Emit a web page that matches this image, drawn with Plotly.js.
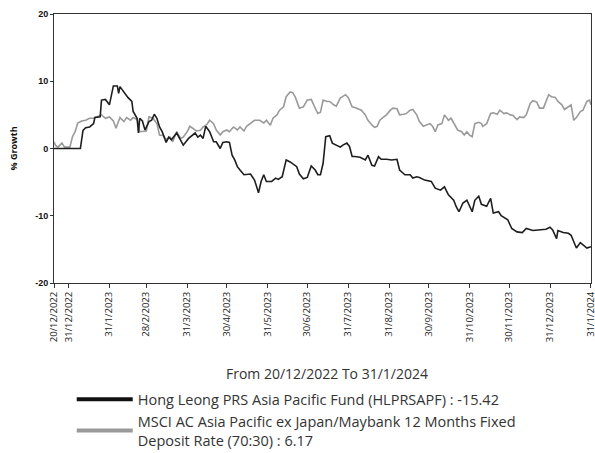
<!DOCTYPE html>
<html>
<head>
<meta charset="utf-8">
<script src="https://cdn.plot.ly/plotly-3.0.1.min.js"></script>
<style>html,body{margin:0;padding:0;background:#fff;}#chart{width:595px;height:453px;}</style>
</head>
<body>
<div id="chart"></div>
<script>
// Start date of the period; series x values are day offsets from this date
const startDate = "2022-12-20";

const fundName = "Hong Leong PRS Asia Pacific Fund (HLPRSAPF) : -15.42";
const benchName = "MSCI AC Asia Pacific ex Japan/Maybank 12 Months Fixed<br>Deposit Rate (70:30) : 6.17";
const periodText = "From 20/12/2022 To 31/1/2024";

const fundDays = [0,10,20,22,24,27,30,31,35,36,39,42,45,48,49,50,53,56,59,60,63,64,65,67,69,72,74,76,78,80,82,85,87,89,93,98,102,107,109,111,113,115,118,121,123,126,128,131,133,135,137,139,141,144,149,152,154,155,157,159,161,165,168,170,173,176,179,184,186,189,192,195,198,200,202,204,206,209,211,214,217,219,222,224,226,228,232,236,238,241,243,246,248,252,256,260,262,266,270,272,275,277,281,286,289,293,296,299,303,305,307,310,313,317,319,322,324,328,331,333,337,339,344,347,351,355,358,363,368,373,376,378,381,382,386,390,392,396,399,401,404,407];
const fundValues = [0,0,0,2.7,3.1,3.2,3.7,4.6,4.7,7.2,7.3,6.5,9.3,9.3,8.2,9.2,8.4,7.6,7.0,5.5,4.5,2.3,4.5,4.1,2.75,4.0,4.2,5.1,4.5,3.2,2.5,0.9,1.7,1.3,2.3,0.5,1.5,2.3,1.7,2.0,1.5,3.3,2.5,1.0,1.0,0,0.9,1.0,0.9,-1.0,-1.7,-2.7,-3.2,-3.9,-3.8,-4.7,-5.9,-6.6,-4.9,-3.9,-4.9,-4.9,-4.4,-4.6,-4.2,-1.7,-2.0,-2.7,-3.8,-4.5,-4.3,-2.6,-3.2,-3.9,-3.9,-2.2,1.75,1.9,0.8,0.5,0.2,0.5,0.8,0.3,-1.2,-1.2,-1.3,-1.7,-1.0,-2.5,-2.6,-1.2,-1.6,-1.6,-1.7,-1.6,-3.2,-3.9,-3.9,-4.4,-4.2,-4.3,-4.7,-4.9,-5.9,-6.2,-5.7,-6.9,-7.7,-8.7,-9.4,-8.1,-7.7,-9.4,-7.7,-7.1,-8.3,-8.6,-7.4,-9.6,-9.4,-10.0,-10.6,-11.9,-12.4,-12.5,-11.9,-12.2,-12.1,-12.0,-11.7,-12.1,-13.4,-12.2,-12.5,-12.6,-12.9,-14.8,-14.0,-14.35,-14.8,-14.6];

const benchDays = [0,1,3,6,8,12,14,16,18,21,24,27,30,32,36,39,42,45,47,50,53,55,58,60,63,65,68,70,72,75,78,80,83,85,88,90,93,96,98,101,103,106,108,111,113,116,118,121,123,126,128,131,133,136,139,141,144,146,149,152,156,159,161,164,166,169,171,174,176,179,181,183,186,189,192,195,198,200,202,204,207,209,212,214,217,219,221,223,226,228,231,233,236,238,241,243,245,247,250,252,255,257,260,262,265,267,270,272,275,277,280,283,285,287,289,291,294,296,299,301,304,306,309,311,313,315,317,319,322,324,325,328,331,333,336,338,341,343,346,348,351,353,356,358,361,363,366,368,371,375,377,380,382,385,387,390,392,394,396,399,401,404,406,407];
const benchValues = [1.0,0.5,0.2,0.8,0.2,0.2,1.75,2.5,3.8,4.1,4.2,4.5,4.5,4.7,5.0,4.5,4.7,4.1,3.0,4.6,4.0,4.6,4.2,4.6,4.3,2.5,2.6,2.6,4.7,4.5,3.7,2.0,1.9,1.3,1.7,1.0,2.5,1.5,1.7,2.5,3.3,2.85,2.6,2.7,3.2,3.6,4.2,3.7,2.75,2.0,2.5,2.75,2.5,3.2,2.75,3.2,2.6,3.3,3.7,4.2,4.2,3.8,4.2,3.45,4.5,5.0,5.7,6.2,7.7,8.4,8.3,7.6,6.0,6.2,7.2,7.3,6.0,5.2,5.4,7.2,7.0,7.0,6.5,6.3,7.5,7.7,8.0,7.6,6.2,6.1,5.8,5.7,5.0,4.2,3.5,3.15,3.3,4.2,4.7,5.0,5.7,6.0,5.9,5.0,5.1,5.2,5.7,5.8,5.0,4.0,3.3,3.6,3.7,3.3,2.5,3.5,3.7,5.0,4.2,4.5,3.3,2.75,2.5,2.0,2.5,2.0,1.75,3.7,3.9,3.7,3.3,3.7,5.2,5.3,5.1,5.7,5.2,5.3,5.0,4.9,4.3,4.7,4.6,5.0,6.7,7.1,6.9,6.0,6.0,8.0,7.7,7.6,7.0,6.5,5.8,6.2,6.5,4.2,4.6,5.5,5.7,7.0,7.2,6.5];

const tickDates = ["2022-12-20","2022-12-31","2023-01-31","2023-02-28","2023-03-31","2023-04-30","2023-05-31","2023-06-30","2023-07-31","2023-08-31","2023-09-30","2023-10-31","2023-11-30","2023-12-31","2024-01-31"];
const tickLabels = ["20/12/2022","31/12/2022","31/1/2023","28/2/2023","31/3/2023","30/4/2023","31/5/2023","30/6/2023","31/7/2023","31/8/2023","30/9/2023","31/10/2023","30/11/2023","31/12/2023","31/1/2024"];

function toDate(d) {
  const t = new Date(startDate + "T00:00:00Z");
  t.setUTCDate(t.getUTCDate() + d);
  return t.toISOString().slice(0, 10);
}

const fundX = fundDays.map(toDate);
const benchX = benchDays.map(toDate);

const traces = [
  {x: benchX, y: benchValues, type: "scatter", mode: "lines", line: {color: "#9a9a9a", width: 1.6}, showlegend: false, hoverinfo: "skip"},
  {x: fundX, y: fundValues, type: "scatter", mode: "lines", line: {color: "#1e1e1e", width: 1.6}, showlegend: false, hoverinfo: "skip"},
  {x: [null], y: [null], type: "scatter", mode: "lines", name: fundName, line: {color: "#111", width: 4}},
  {x: [null], y: [null], type: "scatter", mode: "lines", name: benchName, line: {color: "#9a9a9a", width: 4}}
];

const layout = {
  width: 595, height: 453,
  margin: {l: 54, r: 4, t: 14, b: 170, autoexpand: false},
  paper_bgcolor: "#fff", plot_bgcolor: "#fff",
  font: {family: "Open Sans, sans-serif", color: "#333"},
  xaxis: {
    type: "date", automargin: false,
    range: [tickDates[0], "2024-01-31 02:00"],
    tickmode: "array", tickvals: tickDates, ticktext: tickLabels,
    tickangle: -90, ticklabeloverflow: "allow",
    tickfont: {family: "Open Sans, sans-serif", size: 9.5, color: "#222"},
    ticks: "outside", ticklen: 4, tickcolor: "#333",
    showline: true, linecolor: "#333", linewidth: 1, mirror: true,
    showgrid: false, zeroline: false, fixedrange: true
  },
  yaxis: {
    automargin: false,
    range: [-20, 20], tickvals: [-20, -10, 0, 10, 20],
    ticktext: ["<b>-20</b>", "<b>-10</b>", "<b>0</b>", "<b>10</b>", "<b>20</b>"],
    tickfont: {family: "Liberation Sans Narrow, Arial Narrow, sans-serif", size: 9, color: "#111"},
    ticks: "outside", ticklen: 3, tickcolor: "#333",
    showline: true, linecolor: "#333", linewidth: 1, mirror: true,
    showgrid: false, zeroline: false, fixedrange: true,
    title: {text: "<b>% Growth</b>", font: {family: "Open Sans, sans-serif", size: 9, color: "#111"}, standoff: 16}
  },
  legend: {
    x: 0.033, xanchor: "left", y: -0.373, yanchor: "top",
    font: {family: "Open Sans, sans-serif", size: 14.5, color: "#333"},
    itemwidth: 56, tracegroupgap: 1, bgcolor: "rgba(0,0,0,0)"
  },
  annotations: [{
    text: periodText, xref: "paper", yref: "paper", x: 0.508, y: -0.335,
    xanchor: "center", yanchor: "middle", showarrow: false,
    font: {family: "Open Sans, sans-serif", size: 14, color: "#333"}
  }]
};

Plotly.newPlot("chart", traces, layout, {displayModeBar: false, staticPlot: true});
</script>
</body>
</html>
